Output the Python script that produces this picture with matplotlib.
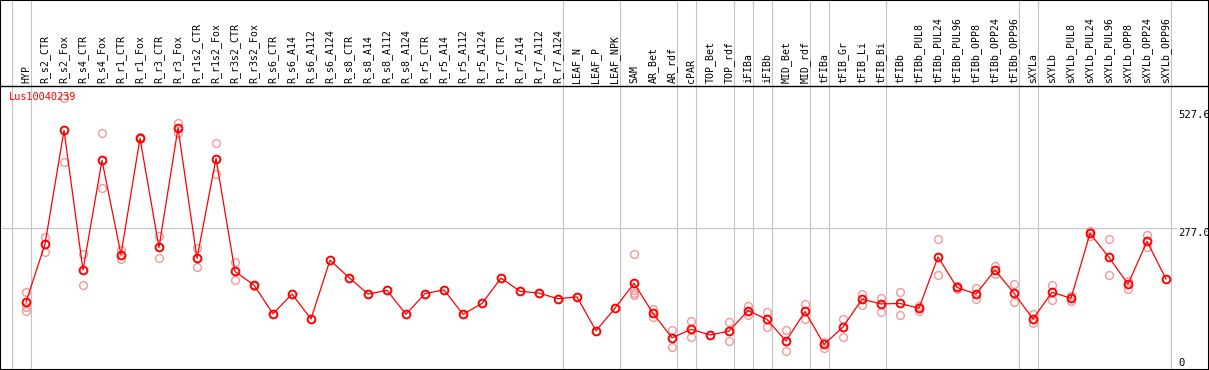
import matplotlib
matplotlib.use("Agg")
import matplotlib.pyplot as plt
import matplotlib.transforms as mtransforms

categories = ["HYP", "R_s2_CTR", "R_s2_Fox", "R_s4_CTR", "R_s4_Fox", "R_r1_CTR", "R_r1_Fox",
              "R_r3_CTR", "R_r3_Fox", "R_r1s2_CTR", "R_r1s2_Fox", "R_r3s2_CTR", "R_r3s2_Fox",
              "R_s6_CTR", "R_s6_A14", "R_s6_A112", "R_s6_A124", "R_s8_CTR", "R_s8_A14",
              "R_s8_A112", "R_s8_A124", "R_r5_CTR", "R_r5_A14", "R_r5_A112", "R_r5_A124",
              "R_r7_CTR", "R_r7_A14", "R_r7_A112", "R_r7_A124", "LEAF_N", "LEAF_P", "LEAF_NPK",
              "SAM", "AR_Bet", "AR_rdf", "cPAR", "TOP_Bet", "TOP_rdf", "iFIBa", "iFIBb",
              "MID_Bet", "MID_rdf", "tFIBa", "tFIB_Gr", "tFIB_Li", "tFIB_Bi", "tFIBb",
              "tFIBb_PUL8", "tFIBb_PUL24", "tFIBb_PUL96", "tFIBb_OPP8", "tFIBb_OPP24",
              "tFIBb_OPP96", "sXYLa", "sXYLb", "sXYLb_PUL8", "sXYLb_PUL24", "sXYLb_PUL96",
              "sXYLb_OPP8", "sXYLb_OPP24", "sXYLb_OPP96"]

means = [120, 243, 485, 188, 421, 221, 468, 236, 490, 213, 425, 185, 156,
         95, 137, 84, 209, 172, 137, 145, 94, 138, 146, 94, 117,
         171, 143, 139, 127, 131, 59, 107,
         160, 96, 44, 62, 50, 58, 102, 83, 37, 100, 30, 67, 126, 116, 117,
         107, 216, 151, 137, 188, 139, 84, 141, 128, 266, 215, 158, 249, 169]

replicates = [[141, 109, 102], [258, 227], [553, 417], [222, 156], [479, 362], [231, 212], [470, 466],
              [260, 213], [500, 480], [234, 195], [458, 392], [205, 166], [157, 155],
              [], [], [], [], [], [], [], [], [], [], [], [],
              [], [], [], [], [], [], [],
              [222, 146, 140, 134], [105, 88], [60, 25], [79, 46], [], [78, 37], [112, 92], [98, 66],
              [60, 15], [115, 85], [36, 23], [85, 45], [137, 113], [128, 98], [141, 93],
              [100, 112], [253, 177], [155, 147], [150, 126], [196, 180], [158, 121], [94, 75],
              [156, 125], [132, 123], [271, 261], [253, 177], [165, 147], [263, 238], []]

group_ends = [-1, 0, 28, 31, 34, 35, 37, 38, 39, 41, 42, 45, 52, 53, 60]
gene = "Lus10040239"
y_ticks = [0, 277.0, 527.6]
y_tick_labels = ["0", "277.0", "527.6"]

W, H = 1209, 370
fig = plt.figure(figsize=(W / 100, H / 100), dpi=100)
ax = fig.add_axes([0, 0, 1, 1])

x0_px, dx_px = 26.0, 19.0
y0_px, dy_px = 358.5, 0.4704
ax.set_xlim(-x0_px / dx_px, (W - x0_px) / dx_px)
ax.set_ylim((y0_px - H) / dy_px, y0_px / dy_px)
ax.set_xticks([])
ax.set_yticks([])
for s in ax.spines.values():
    s.set_color("black")
    s.set_linewidth(1.5)

mono = "DejaVu Sans Mono"
grid_c = "#c4c4c4"
xs = list(range(len(categories)))

# group separators
for g in group_ends:
    ax.axvline(g + 0.25, color=grid_c, lw=0.8, zorder=1)

# gridline at middle value
ax.plot([ax.get_xlim()[0], (1176 - x0_px) / dx_px], [y_ticks[1], y_ticks[1]],
        color=grid_c, lw=0.8, zorder=1)

# header separator
header_y = 1 - 85.7 / H
ax.axhline(ax.get_ylim()[0] + header_y * (ax.get_ylim()[1] - ax.get_ylim()[0]),
           color="black", lw=1.0, zorder=2)

trans = mtransforms.blended_transform_factory(ax.transData, ax.transAxes)
for x, lab in zip(xs, categories):
    ax.text(x, 1 - 83 / H, lab, rotation=90, ha="center", va="bottom",
            fontsize=7.1, family=mono, transform=trans, color="black")

# replicates
for x, reps in zip(xs, replicates):
    if reps:
        ax.plot([x] * len(reps), reps, ls="none", marker="o", ms=5.6, mfc="none",
                mec="#f09a9a", mew=1.0, zorder=3)

# mean line
ax.plot(xs, means, color="red", lw=0.9, marker="o", ms=5.6, mfc="none",
        mec="red", mew=1.4, zorder=4)

# y labels
ytrans = mtransforms.blended_transform_factory(ax.transAxes, ax.transData)
for v, t in zip(y_ticks, y_tick_labels):
    ax.text(1178 / W, v, t, ha="left", va="top", fontsize=7.6, family=mono,
            transform=ytrans, color="black")

ax.text(9.3 / W, 1 - 97 / H, gene, ha="left", va="center", fontsize=7.4,
        family=mono, color="red", transform=ax.transAxes)

fig.savefig("out.png", dpi=100)
